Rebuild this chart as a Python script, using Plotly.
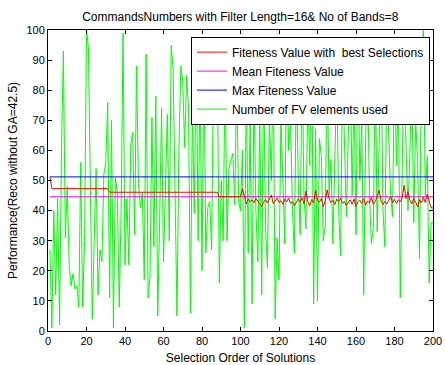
import plotly.graph_objects as go

# ---- data ----
selection_order = list(range(1, 201))

fv_elements_used = [
    27, 1, 40, 12, 44, 2, 60, 93, 31, 48, 22, 15, 19, 14, 15, 8, 56, 8, 30, 100, 94, 40, 4, 30, 54,
    12, 27, 23, 52, 56, 76, 11, 70, 1, 51, 46, 8, 40, 99, 22, 44, 22, 62, 66, 32, 88, 49, 41, 46, 17,
    92, 11, 18, 71, 28, 78, 5, 37, 74, 23, 50, 72, 30, 95, 87, 40, 5, 60, 88, 83, 61, 85, 74, 6, 73,
    39, 95, 30, 85, 20, 90, 26, 41, 43, 27, 90, 69, 85, 16, 50, 30, 88, 30, 54, 57, 59, 42, 85, 43, 40,
    60, 1, 85, 26, 69, 9, 80, 40, 23, 72, 12, 88, 35, 21, 71, 50, 90, 4, 31, 17, 71, 45, 29, 95, 60,
    70, 40, 26, 85, 50, 32, 90, 45, 34, 80, 55, 95, 9, 67, 10, 64, 58, 30, 35, 90, 45, 57, 29, 61, 85,
    40, 25, 88, 60, 38, 65, 90, 45, 80, 32, 95, 50, 70, 12, 64, 85, 45, 29, 34, 90, 33, 62, 95, 40, 28,
    85, 63, 45, 38, 90, 55, 80, 11, 50, 95, 61, 40, 59, 85, 36, 70, 56, 24, 88, 100, 45, 58, 16, 36, 36,
]

best_fitness = [
    51.2, 47.3, 47.3, 47.3, 47.3, 47.3, 47.3, 47.3, 47.3, 47.3,
    47.3, 47.3, 47.3, 47.3, 47.3, 47.3, 47.3, 47.3, 47.3, 47.3,
    47.3, 47.3, 47.3, 47.3, 47.3, 47.3, 47.3, 47.3, 47.3, 47.3,
    47.3, 46.1, 46.1, 46.1, 46.1, 46.1, 46.1, 46.1, 46.1, 46.1,
    46.1, 46.1, 46.1, 46.1, 46.1, 46.1, 46.1, 46.1, 46.1, 46.1,
    46.1, 46.1, 46.1, 46.1, 46.1, 46.1, 46.1, 46.1, 46.1, 46.1,
    46.1, 46.1, 46.1, 46.1, 46.1, 46.1, 46.1, 46.1, 46.1, 46.1,
    46.1, 46.1, 46.1, 46.1, 46.1, 46.1, 46.1, 46.1, 46.1, 46.1,
    46.1, 46.1, 46.1, 46.1, 46.1, 46.1, 46.1, 46.1, 44.6, 44.6,
    44.6, 44.6, 44.6, 44.6, 44.6, 44.6, 44.6, 44.6, 44.6, 44.6,
    47.3, 44.8, 42.2, 43.8, 42.9, 43.5, 42.6, 44.0, 43.1, 42.0,
    41.3, 42.8, 43.6, 42.5, 43.9, 45.2, 42.3, 43.4, 44.2, 42.7,
    43.3, 42.1, 43.8, 42.9, 44.1, 42.4, 43.0, 41.6, 42.6, 43.9,
    42.8, 44.3, 42.2, 46.5, 43.0, 41.5, 43.7, 42.5, 46.7, 43.5,
    42.8, 44.0, 41.3, 43.2, 46.9, 43.9, 42.7, 43.4, 42.0, 43.8,
    42.9, 44.2, 42.4, 43.1, 41.7, 42.8, 43.6, 42.1, 43.9, 41.4,
    42.9, 43.5, 42.3, 44.0, 41.8, 43.2, 42.6, 44.4, 42.1, 43.0,
    44.6, 46.8, 43.2, 42.0, 43.1, 42.2, 43.4, 44.7, 42.6, 43.8,
    42.4, 43.6, 42.9, 44.3, 48.4, 44.0, 46.3, 43.5, 42.2, 44.1,
    42.8, 41.2, 43.6, 42.5, 44.5, 42.7, 45.5, 43.0, 40.9, 40.9,
]

mean_fitness = 44.6
max_fitness = 51.2

x_ticks = list(range(0, 201, 20))
y_ticks = list(range(0, 101, 10))

title_text = "CommandsNumbers with Filter Length=16& No of Bands=8"
x_title = "Selection Order of Solutions"
y_title = "Performance(Reco without GA=42.5)"

FONT = "Liberation Sans, Arial, sans-serif"

fig = go.Figure()

fig.add_trace(go.Scatter(
    x=selection_order, y=fv_elements_used, mode="lines",
    name="Number of FV elements used",
    line=dict(color="#00ff00", width=1), legendrank=4,
))
fig.add_trace(go.Scatter(
    x=[selection_order[0], selection_order[-1]], y=[mean_fitness, mean_fitness], mode="lines",
    name="Mean Fiteness Value",
    line=dict(color="#ff00ff", width=1), legendrank=2,
))
fig.add_trace(go.Scatter(
    x=[selection_order[0], selection_order[-1]], y=[max_fitness, max_fitness], mode="lines",
    name="Max Fiteness Value",
    line=dict(color="#0000ff", width=1), legendrank=3,
))
fig.add_trace(go.Scatter(
    x=selection_order, y=best_fitness, mode="lines",
    name="Fiteness Value with  best Selections",
    line=dict(color="#ff0000", width=1), legendrank=1,
))

axis_common = dict(
    showgrid=False, zeroline=False, automargin=False,
    showline=True, linecolor="black", linewidth=1, mirror="allticks",
    ticks="inside", ticklen=4, tickcolor="black", tickwidth=1,
    tickfont=dict(family=FONT, size=11, color="black"),
)

fig.update_layout(
    width=445, height=365,
    margin=dict(l=48, r=12, t=30, b=34),
    paper_bgcolor="white", plot_bgcolor="white",
    font=dict(family=FONT, size=12, color="black"),
    title=dict(text=title_text, x=0.54, xanchor="center", y=0.955, yanchor="middle",
               font=dict(family=FONT, size=12, color="black")),
    xaxis=dict(range=[0, 200], tickvals=x_ticks,
               title=dict(text=x_title, standoff=8, font=dict(family=FONT, size=12)),
               **axis_common),
    yaxis=dict(range=[0, 100], tickvals=y_ticks,
               title=dict(text=y_title, standoff=6, font=dict(family=FONT, size=12)),
               **axis_common),
    legend=dict(x=0.992, xanchor="right", y=0.978, yanchor="top",
                bgcolor="white", bordercolor="black", borderwidth=1,
                font=dict(family=FONT, size=12), tracegroupgap=0,
                itemwidth=30),
    showlegend=True,
)

fig.write_html("out.html")
